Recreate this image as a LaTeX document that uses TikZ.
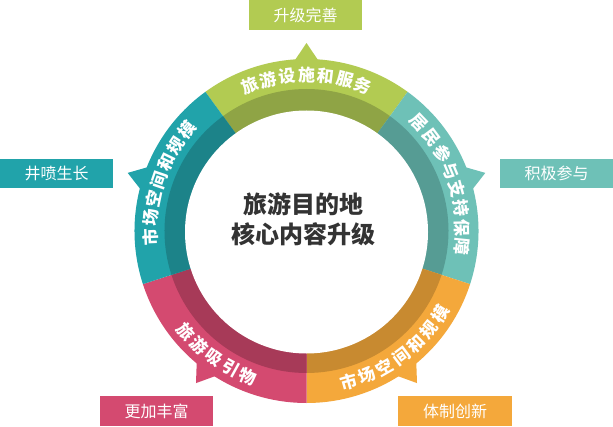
\documentclass[tikz,border=0pt]{standalone}
\usepackage{fontspec}
\newfontfamily\cjk{Noto Sans CJK SC}
\usetikzlibrary{calc}
\definecolor{gL}{HTML}{B2CB52}\definecolor{gD}{HTML}{8FA445}
\definecolor{tL}{HTML}{6EC1B7}\definecolor{tD}{HTML}{569C94}
\definecolor{oL}{HTML}{F4A83B}\definecolor{oD}{HTML}{C88A30}
\definecolor{pL}{HTML}{D44A70}\definecolor{pD}{HTML}{A73A58}
\definecolor{cL}{HTML}{21A3AA}\definecolor{cD}{HTML}{1C8389}
\definecolor{ctext}{HTML}{333333}
\tikzset{
  ringtxt/.style={text=white, inner sep=0pt, anchor=center, font=\cjk\bfseries\fontsize{17}{17}\selectfont},
  tagbox/.style={inner sep=0pt, minimum width=113pt, minimum height=30pt, text=white, font=\cjk\fontsize{16}{16}\selectfont},
}
\newcommand\dstep{7.1}
\newcommand\ringseg[4]{%
  \fill[#2, shift={(C)}] (0,0) -- (#1:172) arc[start angle=#1, end angle=#1+72, radius=172] -- cycle;
  \fill[#2, shift={(C)}] (#4-4.2:170) -- (#4:188) -- (#4+4.2:170) -- cycle;
  \fill[#3, shift={(C)}] (0,0) -- (#1:142) arc[start angle=#1, end angle=#1+72, radius=142] -- cycle;
}
% clockwise text, tops outward
\newcommand\cwlabel[4]{%
  \foreach \ch [count=\i from 0] in {#4} {
    \pgfmathsetmacro\ang{#1+(#2-1)/2*\dstep-\i*\dstep}
    \pgfmathsetmacro\rot{\ang-90}
    \node[ringtxt, rotate=\rot] (#3-\i) at ($(C)+(\ang:156)$) {\ch};
  }
}
% counterclockwise text, tops inward
\newcommand\ccwlabel[4]{%
  \foreach \ch [count=\i from 0] in {#4} {
    \pgfmathsetmacro\ang{#1-(#2-1)/2*\dstep+\i*\dstep}
    \pgfmathsetmacro\rot{\ang+90}
    \node[ringtxt, rotate=\rot] (#3-\i) at ($(C)+(\ang:157)$) {\ch};
  }
}
\begin{document}
\begin{tikzpicture}[x=1pt,y=1pt]
\useasboundingbox (0,0) rectangle (613,426);
\fill[white] (0,0) rectangle (613,426);
\coordinate (C) at (306.5,195);
\coordinate (W) at (306.5,194);
\ringseg{54}{gL}{gD}{90}
\ringseg{342}{tL}{tD}{18}
\ringseg{270}{oL}{oD}{306}
\ringseg{198}{pL}{pD}{234}
\ringseg{126}{cL}{cD}{162}
\fill[white] (W) circle (121.5);
\cwlabel{90}{7}{la}{旅,游,设,施,和,服,务}
\cwlabel{19}{8}{lb}{居,民,参,与,支,持,保,障}
\cwlabel{161}{7}{le}{市,场,空,间,和,规,模}
\ccwlabel{307}{7}{lc}{市,场,空,间,和,规,模}
\ccwlabel{234}{5}{ld}{旅,游,吸,引,物}
\node[align=center, text=ctext, inner sep=0pt, font=\cjk\bfseries\fontsize{24}{30}\selectfont] (center) at (303,207) {旅游目的地\\核心内容升级};
\node[tagbox, fill=gL] (b1) at (305.5,411) {升级完善};
\node[tagbox, fill=cL, minimum height=29pt] (b5) at (56.5,252.5) {井喷生长};
\node[tagbox, fill=tL, minimum height=29pt] (b2) at (556.5,252.5) {积极参与};
\node[tagbox, fill=pL] (b4) at (156.5,15) {更加丰富};
\node[tagbox, fill=oL, minimum width=114pt] (b3) at (455,15) {体制创新};
\end{tikzpicture}
\end{document}
